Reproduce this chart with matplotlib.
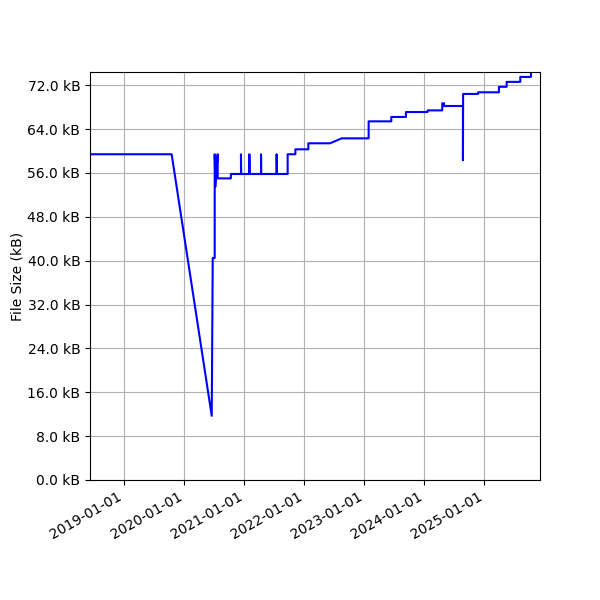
import matplotlib
matplotlib.use('Agg')
import matplotlib.pyplot as plt
import matplotlib.dates as mdates
from matplotlib.ticker import MultipleLocator, FuncFormatter
import pandas as pd

# commit dates and file size [kB]
dates = ['2018-06-06', '2019-10-16', '2020-06-16', '2020-06-22', '2020-07-04',
         '2020-07-04', '2020-07-09', '2020-07-22', '2020-07-22', '2020-10-10',
         '2020-10-11', '2020-12-11', '2020-12-11', '2020-12-12', '2021-01-31',
         '2021-01-31', '2021-02-01', '2021-04-12', '2021-04-12', '2021-04-13',
         '2021-07-16', '2021-07-16', '2021-07-17', '2021-09-21', '2021-09-21',
         '2021-11-07', '2021-11-07', '2022-01-25', '2022-01-25', '2022-06-06',
         '2022-08-16', '2023-01-27', '2023-01-27', '2023-06-14', '2023-06-14',
         '2023-09-11', '2023-09-11', '2024-01-21', '2024-01-21', '2024-04-19',
         '2024-04-19', '2024-04-30', '2024-04-30', '2024-08-23', '2024-08-23',
         '2024-08-24', '2024-11-23', '2024-11-23', '2025-03-30', '2025-03-30',
         '2025-05-16', '2025-05-16', '2025-08-07', '2025-08-07', '2025-10-11',
         '2025-10-11']
size_kb = [59.4, 59.4, 11.7, 40.5, 40.5,
           59.4, 53.5, 59.4, 55.0, 55.0,
           55.8, 55.8, 59.4, 55.8, 55.8,
           59.4, 55.8, 55.8, 59.4, 55.8,
           55.8, 59.4, 55.8, 55.8, 59.4,
           59.4, 60.3, 60.3, 61.4, 61.4,
           62.3, 62.3, 65.4, 65.4, 66.2,
           66.2, 67.1, 67.1, 67.4, 67.4,
           68.7, 68.7, 68.2, 68.2, 58.3,
           70.4, 70.4, 70.7, 70.7, 71.7,
           71.7, 72.6, 72.6, 73.5, 73.5,
           74.3]

t = pd.to_datetime(dates)

fig, ax = plt.subplots(figsize=(6, 6), dpi=100)
ax.plot(t, size_kb, 'b-', linewidth=1.5)

ax.set_xlim(pd.Timestamp('2018-06-06'), pd.Timestamp('2025-12-05'))
ax.set_ylim(0, 74.4)
ax.xaxis.set_major_locator(mdates.YearLocator())
ax.xaxis.set_major_formatter(mdates.DateFormatter('%Y-%m-%d'))
ax.yaxis.set_major_locator(MultipleLocator(8))
ax.yaxis.set_major_formatter(FuncFormatter(lambda v, p: '%.1f kB' % v))
ax.set_ylabel('File Size (kB)', labelpad=2)
ax.grid(True)
fig.autofmt_xdate()
plt.subplots_adjust(left=0.15, right=0.9, top=0.88, bottom=0.2)
plt.savefig('out.png')
